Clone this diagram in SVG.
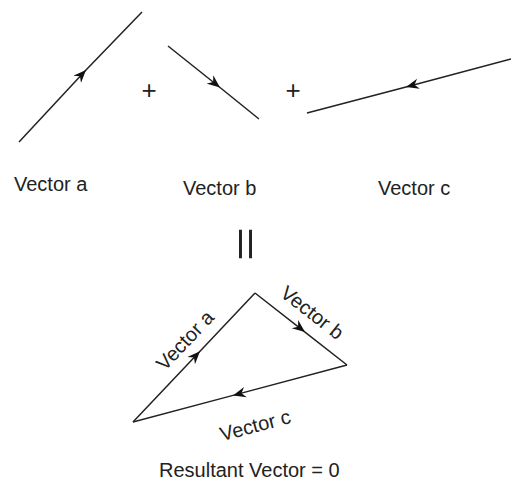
<svg xmlns="http://www.w3.org/2000/svg" width="511" height="479" viewBox="0 0 511 479">
<defs>
<style>
.v{fill:none;stroke:#222;stroke-width:1.5;marker-mid:url(#ah)}
.t{font-family:"Liberation Sans",Arial,sans-serif;font-size:20px;fill:#222}
.p{font-size:26px}
.eq{font-size:40px}
</style>
<marker id="ah" markerUnits="userSpaceOnUse" markerWidth="14" markerHeight="12" viewBox="-11 -5 12 10" refX="0" refY="0" orient="auto">
<path d="M0,0 L-11,-4.5 L-7.5,0 L-11,4.5 Z" fill="#111"/>
</marker>
</defs>
<rect width="511" height="479" fill="#fff"/>
<g id="connectors">
<polyline id="vec-a" class="v" points="19,142 86,70 142,12"/>
<polyline id="vec-b" class="v" points="168,46 220,87.5 259,119"/>
<polyline id="vec-c" class="v" points="511,59 406,87 307,113"/>
<polyline id="tri-a" class="v" points="133,422 200,351.2 255,293"/>
<polyline id="tri-b" class="v" points="255,293 305,332.1 347,365"/>
<polyline id="tri-c" class="v" points="347,365 233,395.4 133,422"/>
</g>
<g id="plus1"><text class="t p" x="149" y="99" text-anchor="middle">+</text></g>
<g id="plus2"><text class="t p" x="293" y="99" text-anchor="middle">+</text></g>
<g id="label-a"><text class="t" x="14" y="191">Vector a</text></g>
<g id="label-b"><text class="t" x="183" y="195">Vector b</text></g>
<g id="label-c"><text class="t" x="378" y="195">Vector c</text></g>
<g id="equals"><text class="t eq" text-anchor="middle" transform="translate(231.5,244) rotate(90) scale(1.46,1)">=</text></g>
<g id="tri-label-a"><text class="t" text-anchor="middle" transform="translate(190,345) rotate(-46.6)">Vector a</text></g>
<g id="tri-label-b"><text class="t" text-anchor="middle" transform="translate(308,318) rotate(38)">Vector b</text></g>
<g id="tri-label-c"><text class="t" text-anchor="middle" transform="translate(257,432) rotate(-15)">Vector c</text></g>
<g id="resultant"><text class="t" x="159" y="476.5">Resultant Vector = 0</text></g>
</svg>
